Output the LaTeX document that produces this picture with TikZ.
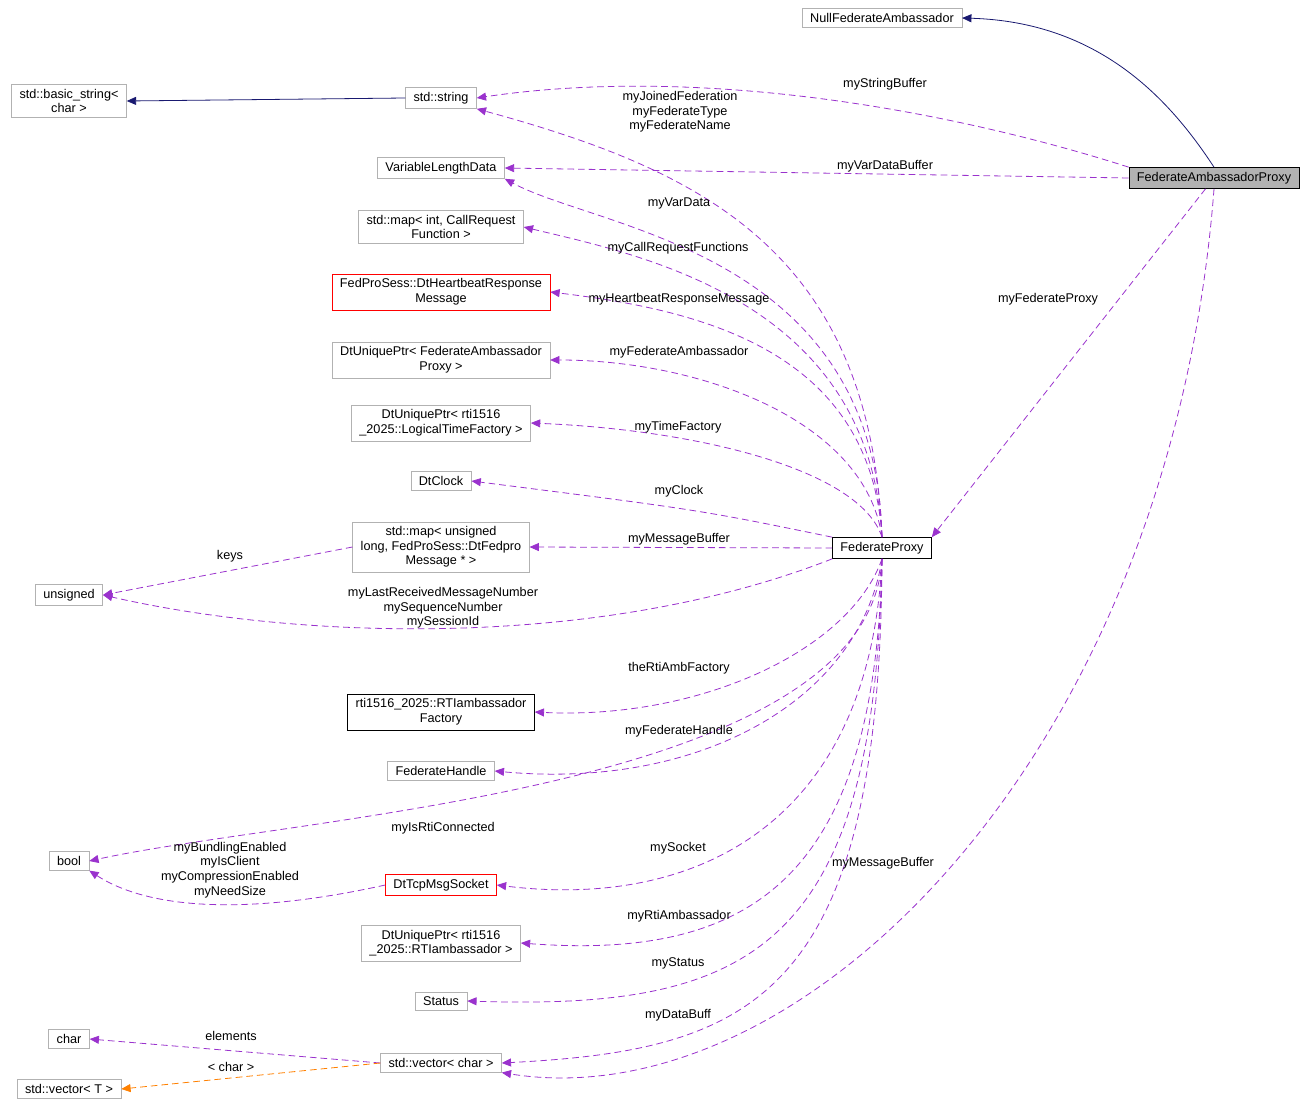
\documentclass[tikz,border=0pt]{standalone}
\usepackage{fontspec}
\setmainfont{Liberation Sans}
\usetikzlibrary{arrows.meta}

\definecolor{usecol}{RGB}{154,50,205}
\definecolor{inhcol}{RGB}{25,25,112}

\tikzset{
  cls/.style={draw=gray!60, fill=white, align=center, inner xsep=6pt, inner ysep=3.5pt, font=\fontsize{9.5}{11}\selectfont},
  redcls/.style={cls, draw=red},
  blkcls/.style={cls, draw=black},
  usage/.style={draw=usecol, line width=0.6pt, dash pattern=on 5pt off 3pt, -{Triangle[length=7pt,width=6pt,fill=usecol]}},
  inherit/.style={draw=inhcol, line width=0.6pt, -{Triangle[length=7pt,width=6pt,fill=inhcol]}},
  templ/.style={draw=orange, line width=0.6pt, dash pattern=on 5pt off 3pt, -{Triangle[length=7pt,width=6pt,fill=orange]}},
  lbl/.style={align=center, inner sep=0pt, font=\fontsize{9.5}{11}\selectfont}
}

\begin{document}
\begin{tikzpicture}[x=0.75pt, y=-0.75pt]
  \useasboundingbox (0,0) rectangle (1312,1109);
  % classes
  \node[cls] (nfa) at (882,18) {NullFederateAmbassador};
  \node[blkcls, fill=gray!60] (fap) at (1214,178) {FederateAmbassadorProxy};
  \node[cls] (bstr) at (69,101) {std::basic\_string\textless\\char \textgreater};
  \node[cls] (str) at (441,98) {std::string};
  \node[cls] (vld) at (441,168) {VariableLengthData};
  \node[cls] (crf) at (441,227) {std::map\textless{} int, CallRequest\\Function \textgreater};
  \node[redcls] (hb) at (441,292) {FedProSess::DtHeartbeatResponse\\Message};
  \node[cls] (ufap) at (441,360) {DtUniquePtr\textless{} FederateAmbassador\\Proxy \textgreater};
  \node[cls] (ltf) at (441,423) {DtUniquePtr\textless{} rti1516\\\_2025::LogicalTimeFactory \textgreater};
  \node[cls] (clk) at (441,481) {DtClock};
  \node[cls] (mu) at (441,547) {std::map\textless{} unsigned\\long, FedProSess::DtFedpro\\Message * \textgreater};
  \node[cls] (uns) at (69,595) {unsigned};
  \node[blkcls] (fp) at (882,548) {FederateProxy};
  \node[blkcls] (raf) at (441,712) {rti1516\_2025::RTIambassador\\Factory};
  \node[cls] (fh) at (441,771) {FederateHandle};
  \node[cls] (bool) at (69,861) {bool};
  \node[redcls] (sock) at (441,885) {DtTcpMsgSocket};
  \node[cls] (ra) at (441,943) {DtUniquePtr\textless{} rti1516\\\_2025::RTIambassador \textgreater};
  \node[cls] (st) at (441,1001) {Status};
  \node[cls] (chr) at (69,1039) {char};
  \node[cls] (vc) at (441,1063) {std::vector\textless{} char \textgreater};
  \node[cls] (vt) at (69,1089) {std::vector\textless{} T \textgreater};

  % connectors
  \draw[inherit] (fap.north) .. controls (1170,100) and (1100,22) .. (nfa.east);
  \draw[inherit] (str.west) -- (bstr.east);
  \draw[usage] (fap.north west) .. controls (950,110) and (700,65) .. (str.east);
  \draw[usage] (fap.west) -- (vld.east);
  \draw[usage] (fap) -- (fp.north east);
  \draw[usage] (fap.south) .. controls (1170,760) and (800,1120) .. (vc.south east);
  \draw[usage] (fp.north) .. controls (870,250) and (700,170) .. (str.south east);
  \draw[usage] (fp.north) .. controls (875,250) and (600,230) .. (vld.south east);
  \draw[usage] (fp.north) .. controls (870,300) and (640,255) .. (crf.east);
  \draw[usage] (fp.north) .. controls (870,350) and (700,310) .. (hb.east);
  \draw[usage] (fp.north) .. controls (865,420) and (700,360) .. (ufap.east);
  \draw[usage] (fp.north) .. controls (860,470) and (700,430) .. (ltf.east);
  \draw[usage] (fp.north west) .. controls (700,510) .. (clk.east);
  \draw[usage] (fp.west) -- (mu.east);
  \draw[usage] (mu.west) -- (uns.east);
  \draw[usage] (fp.south west) .. controls (600,650) and (300,640) .. (uns.east);
  \draw[usage] (fp.south) .. controls (850,650) and (700,720) .. (raf.east);
  \draw[usage] (fp.south) .. controls (860,700) and (700,790) .. (fh.east);
  \draw[usage] (fp.south) .. controls (870,790) and (300,815) .. (bool.east);
  \draw[usage] (fp.south) .. controls (870,820) and (700,910) .. (sock.east);
  \draw[usage] (sock.west) .. controls (250,915) and (150,910) .. (bool.south east);
  \draw[usage] (fp.south) .. controls (875,880) and (750,960) .. (ra.east);
  \draw[usage] (fp.south) .. controls (875,950) and (750,1010) .. (st.east);
  \draw[usage] (fp.south) .. controls (880,1000) and (750,1050) .. (vc.east);
  \draw[usage] (vc.west) -- (chr.east);
  \draw[templ] (vc.west) -- (vt.east);

  % labels
  \node[lbl] (l1) at (885,84) {myStringBuffer};
  \node[lbl] (l2) at (885,166) {myVarDataBuffer};
  \node[lbl] (l3) at (1048,299) {myFederateProxy};
  \node[lbl] (l4) at (883,863) {myMessageBuffer};
  \node[lbl] (l5) at (680,112) {myJoinedFederation\\myFederateType\\myFederateName};
  \node[lbl] (l6) at (679,203) {myVarData};
  \node[lbl] (l7) at (678,248) {myCallRequestFunctions};
  \node[lbl] (l8) at (679,299) {myHeartbeatResponseMessage};
  \node[lbl] (l9) at (679,352) {myFederateAmbassador};
  \node[lbl] (l10) at (678,427) {myTimeFactory};
  \node[lbl] (l11) at (679,491) {myClock};
  \node[lbl] (l12) at (679,539) {myMessageBuffer};
  \node[lbl] (l13) at (230,556) {keys};
  \node[lbl] (l14) at (443,608) {myLastReceivedMessageNumber\\mySequenceNumber\\mySessionId};
  \node[lbl] (l15) at (679,668) {theRtiAmbFactory};
  \node[lbl] (l16) at (679,731) {myFederateHandle};
  \node[lbl] (l17) at (443,828) {myIsRtiConnected};
  \node[lbl] (l18) at (230,870) {myBundlingEnabled\\myIsClient\\myCompressionEnabled\\myNeedSize};
  \node[lbl] (l19) at (678,848) {mySocket};
  \node[lbl] (l20) at (679,916) {myRtiAmbassador};
  \node[lbl] (l21) at (678,963) {myStatus};
  \node[lbl] (l22) at (678,1015) {myDataBuff};
  \node[lbl] (l23) at (231,1036) {elements};
  \node[lbl] (l24) at (231,1067) {\textless{} char \textgreater};
\end{tikzpicture}
\end{document}
